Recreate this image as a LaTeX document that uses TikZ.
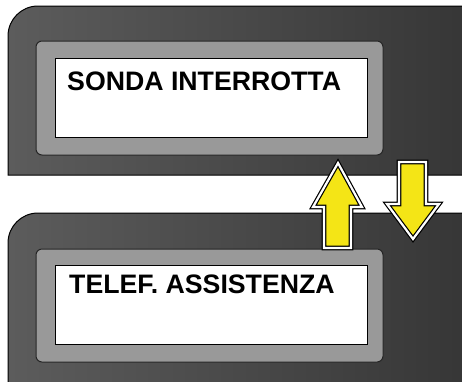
\documentclass[tikz,border=0pt]{standalone}
\usepackage{fontspec}
\setmainfont{Liberation Sans}
\usepackage{tikz}
\usetikzlibrary{positioning}
\definecolor{panelL}{HTML}{5C5C5C}
\definecolor{panelR}{HTML}{363636}
\definecolor{bezelgray}{HTML}{999999}
\definecolor{arrowyellow}{HTML}{F4E516}

\begin{document}
\begin{tikzpicture}[x=1pt,y=-1pt,
  panel/.style={draw=black,line width=1pt,left color=panelL,right color=panelR},
  bezel/.style={draw=black!85,line width=1pt,fill=bezelgray,rounded corners=6pt},
  screen/.style={draw=black,line width=1.3pt,fill=white,inner sep=0pt,anchor=north west,
    minimum width=312pt,minimum height=79pt},
  msg/.style={font=\bfseries\fontsize{26.7}{27}\selectfont,anchor=base west,inner sep=0pt},
  updown/.style={draw=black,line width=1.2pt,double=white,double distance=2.2pt,
    fill=arrowyellow,line join=miter}]
  \useasboundingbox (0,0) rectangle (462,381);
  % top display
  \draw[panel] (470,175) -- (8,175) [rounded corners=30pt] -- (8,6) [sharp corners] -- (470,6) -- cycle;
  \draw[bezel] (36,41) rectangle (383,155);
  \node[screen] (screenA) at (55,58) {};
  \node[msg] (msgA) at (67,90) {SONDA INTERROTTA};
  % bottom display
  \draw[panel] (470,390) -- (8,390) [rounded corners=30pt] -- (8,213) [sharp corners] -- (470,213) -- cycle;
  \draw[bezel] (36,249) rectangle (383,362);
  \node[screen] (screenB) at (55,265) {};
  \node[msg] (msgB) at (69,293) {TELEF. ASSISTENZA};
  % scroll arrows
  \draw[updown] (338,163) -- (362,207) -- (351,207) -- (351,248) -- (324,248)
    -- (324,207) -- (313,207) -- cycle;
  \draw[updown] (399,162) -- (426,162) -- (426,204) -- (439,204) -- (413,239)
    -- (387,204) -- (399,204) -- cycle;
\end{tikzpicture}
\end{document}
